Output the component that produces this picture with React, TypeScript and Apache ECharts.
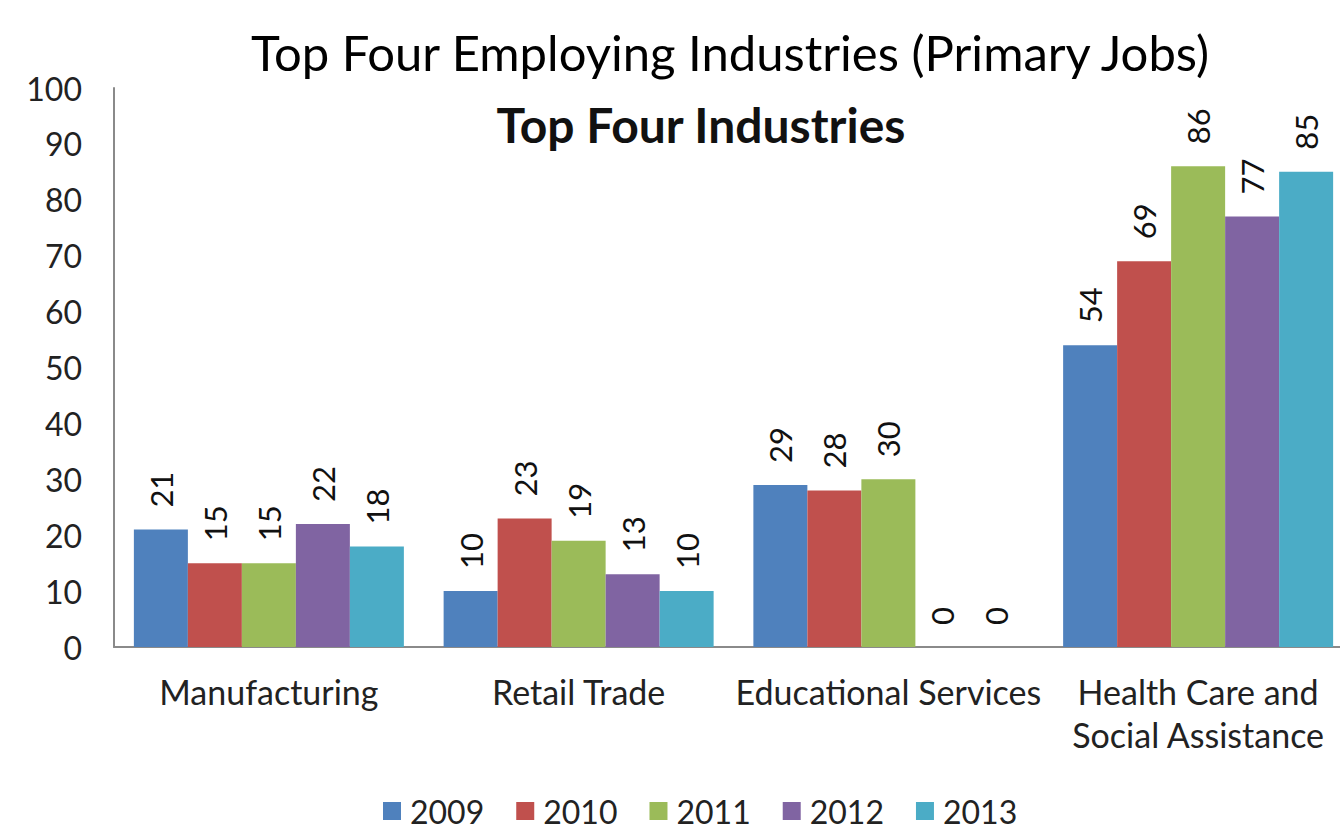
import React, { useEffect, useRef } from "react";
import * as echarts from "echarts";

const categories = ["Manufacturing", "Retail Trade", "Educational Services", "Health Care and\nSocial Assistance"];
const years = ["2009", "2010", "2011", "2012", "2013"];
const values2009 = [21, 10, 29, 54];
const values2010 = [15, 23, 28, 69];
const values2011 = [15, 19, 30, 86];
const values2012 = [22, 13, 0, 77];
const values2013 = [18, 10, 0, 85];
const seriesValues = [values2009, values2010, values2011, values2012, values2013];
const colors = ["#4F81BD", "#C0504D", "#9BBB59", "#8064A2", "#4BACC6"];

const FONT = "Lato, 'Noto Sans', sans-serif";

export default function App() {
  const ref = useRef<HTMLDivElement>(null);
  useEffect(() => {
    if (!ref.current) return;
    const chart = echarts.init(ref.current, null, { renderer: "svg" });
    chart.setOption({
      animation: false,
      backgroundColor: "#ffffff",
      color: colors,
      textStyle: { fontFamily: FONT },
      graphic: [
        {
          type: "text",
          x: 730,
          y: 52,
          style: {
            text: "Top Four Employing Industries (Primary Jobs)",
            fontFamily: FONT,
            fontSize: 49,
            fill: "#000",
            textAlign: "center",
            textVerticalAlign: "middle",
          },
        },
        {
          type: "text",
          x: 701,
          y: 124,
          style: {
            text: "Top Four Industries",
            fontFamily: FONT,
            fontSize: 48,
            fontWeight: "bold",
            fill: "#111",
            textAlign: "center",
            textVerticalAlign: "middle",
          },
        },
      ],
      legend: {
        top: 795,
        left: 383,
        padding: 0,
        itemWidth: 18,
        itemHeight: 18,
        itemGap: 32,
        icon: "rect",
        textStyle: { fontFamily: FONT, fontSize: 32, lineHeight: 30, color: "#222", padding: [0, 0, 0, 4] },
        data: years,
      },
      grid: { left: 114, right: 0, top: 88, bottom: 185, containLabel: false },
      xAxis: {
        type: "category",
        data: categories,
        axisLine: { show: true, lineStyle: { color: "#8a8a8a", width: 2 } },
        axisTick: { show: false },
        axisLabel: {
          fontFamily: FONT,
          fontSize: 34,
          color: "#222",
          margin: 23,
          lineHeight: 43,
          interval: 0,
        },
      },
      yAxis: {
        type: "value",
        min: 0,
        max: 100,
        interval: 10,
        splitLine: { show: false },
        axisLine: { show: true, lineStyle: { color: "#8a8a8a", width: 2 } },
        axisTick: { show: false },
        axisLabel: { fontFamily: FONT, fontSize: 32, color: "#222", margin: 32 },
      },
      series: years.map((y, i) => ({
        name: y,
        type: "bar",
        data: seriesValues[i],
        barWidth: 54,
        barGap: "0%",
        itemStyle: { color: colors[i] },
        label: {
          show: true,
          position: "top",
          rotate: 90,
          align: "left",
          verticalAlign: "middle",
          distance: 22,
          fontFamily: FONT,
          fontSize: 31,
          color: "#111",
        },
      })),
    });
    return () => chart.dispose();
  }, []);
  return <div ref={ref} style={{ position: "fixed", left: 0, top: 0, width: 1353, height: 832 }} />;
}
